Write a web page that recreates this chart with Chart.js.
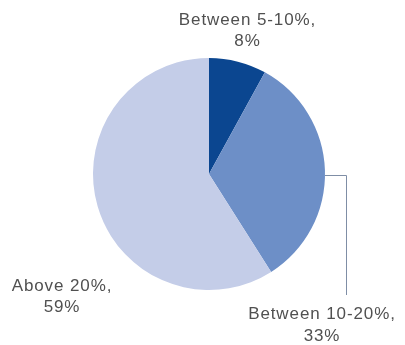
<!DOCTYPE html>
<html><head><meta charset="utf-8">
<script src="https://cdn.jsdelivr.net/npm/chart.js@4/dist/chart.umd.min.js"></script>
<style>html,body{margin:0;padding:0;background:#fff}#wrap{width:405px;height:345px;position:relative}</style>
</head><body><div id="wrap"><canvas id="c" width="405" height="345"></canvas></div>
<script>
const categories = ["Between 5-10%", "Between 10-20%", "Above 20%"];
const values = [8, 33, 59];
const valueLabels = ["8%", "33%", "59%"];
const colors = ["#0b4690", "#6d8fc7", "#c4cde8"];

const labelPlugin = {
  id: 'labels',
  afterDraw(chart) {
    const ctx = chart.ctx;
    const arc = chart.getDatasetMeta(0).data[0];
    const cx = arc.x, cy = arc.y, r = arc.outerRadius;
    ctx.save();
    // leader line for the 33% slice
    ctx.strokeStyle = '#7f8ea6';
    ctx.lineWidth = 1;
    ctx.beginPath();
    ctx.moveTo(cx + r, cy + 1.5);
    ctx.lineTo(cx + r + 21.5, cy + 1.5);
    ctx.lineTo(cx + r + 21.5, cy + 121);
    ctx.stroke();
    ctx.fillStyle = '#505050';
    ctx.font = '17px "Liberation Sans", Arial, sans-serif';
    ctx.textAlign = 'center';
    ctx.textBaseline = 'middle';
    try { ctx.letterSpacing = '0.9px'; } catch(e) {}
    const pos = [[cx + 38.5, 20, 41], [cx + 113, 314.5, 336], [cx - 147, 286.5, 307]];
    categories.forEach((c, i) => {
      ctx.fillText(c + ',', pos[i][0], pos[i][1]);
      ctx.fillText(valueLabels[i], pos[i][0], pos[i][2]);
    });
    ctx.restore();
  }
};

new Chart(document.getElementById('c'), {
  type: 'pie',
  data: { labels: categories, datasets: [{ data: values, backgroundColor: colors, borderWidth: 0 }] },
  options: {
    responsive: false, animation: false,
    layout: { padding: { top: 58, bottom: 55, left: 93, right: 80 } },
    plugins: { legend: { display: false }, tooltip: { enabled: false } }
  },
  plugins: [labelPlugin]
});
</script></body></html>
